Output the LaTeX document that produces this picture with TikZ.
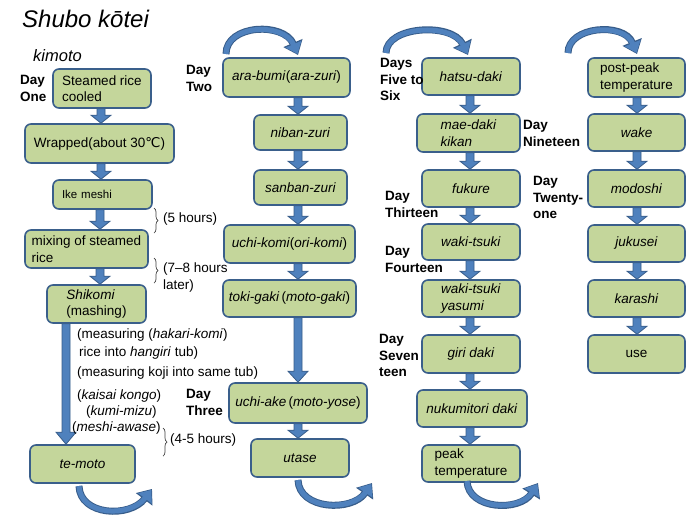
\documentclass[tikz,border=0pt]{standalone}
\usepackage{fontspec}
\setmainfont{Liberation Sans}
\newfontfamily\dejavu{DejaVu Sans}
\usetikzlibrary{decorations.pathreplacing,calc,arrows.meta}
\definecolor{boxfill}{HTML}{C4D69B}
\definecolor{boxline}{HTML}{3A5F8B}
\definecolor{arrfill}{HTML}{4F81BD}
\definecolor{arrline}{HTML}{385D8A}
\newcommand\boxfont{\fontsize{13.5}{16.5}\selectfont}
\newcommand\labfont{\fontsize{13.5}{17}\selectfont}
\newcommand\dayfont{\fontsize{13.5}{16.5}\selectfont\bfseries}
\tikzset{
  box/.style={draw=boxline, line width=1.6pt, fill=boxfill, rounded corners=6pt,
    inner sep=0pt, font=\boxfont, align=center},
  lbox/.style={box, align=left},
  lab/.style={font=\labfont, align=left, inner sep=0pt, anchor=west},
  mlab/.style={font=\labfont, align=left, inner sep=0pt, anchor=north west},
  daylab/.style={font=\dayfont, align=left, inner sep=0pt, anchor=north west},
  brc/.style={decorate, decoration={brace, amplitude=4pt}, draw=black!75, line width=0.7pt},
  blk/.style={fill=arrfill, draw=arrline, line width=0.8pt, line join=miter},
}
% block arrow: [head length]{from}{to}{x}
\newcommand\blkarrow[4][8]{%
  \path[blk] let \p1=(#2.south), \p2=(#3.north) in
    ({#4pt-4pt},\y1) -- ({#4pt+4pt},\y1) -- ({#4pt+4pt},{\y2+#1pt}) --
    ({#4pt+10pt},{\y2+#1pt}) -- (#4pt,\y2) -- ({#4pt-10pt},{\y2+#1pt}) --
    ({#4pt-4pt},{\y2+#1pt}) -- cycle;}
% curved arrow: {start}{c1}{c2}{end}
\newcommand\curvarrow[4]{%
  \draw[line width=7pt, arrline, -{Triangle[width=20pt,length=13pt]}]
    (#1) .. controls #2 and #3 .. (#4);
  \draw[line width=5pt, arrfill, shorten >=1.2pt, -{Triangle[width=16.5pt,length=10.5pt]}]
    (#1) .. controls #2 and #3 .. (#4);}
\begin{document}
\begin{tikzpicture}[x=1pt,y=-1pt]
\useasboundingbox (0,0) rectangle (700,525);
\fill[white] (0,0) rectangle (700,525);

% titles
\node[anchor=base west, inner sep=0pt, font=\fontsize{24}{28}\selectfont\itshape] (title) at (22,27) {Shubo kōtei};
\node[anchor=base west, inner sep=0pt, font=\fontsize{16.5}{20}\selectfont\itshape] (kimoto) at (33,61) {kimoto};

% column 1
\node[lbox, minimum width=98pt, minimum height=39pt] (steamed) at (102,88.5) {Steamed rice\\cooled};
\node[box, minimum width=149pt, minimum height=39pt] (wrapped) at (99.5,143.5) {Wrapped(about 30{\dejavu ℃})};
\node[box, minimum width=99pt, minimum height=29pt, text width=81pt, align=left, font=\fontsize{11.5}{14}\selectfont] (ike) at (102.5,194.5) {Ike meshi};
\node[lbox, minimum width=123pt, minimum height=38pt] (mixing) at (86.5,249) {mixing of steamed\\rice};
\node[lbox, minimum width=99pt, minimum height=38pt] (shikomi) at (96.5,304) {\textit{Shikomi}\\(mashing)};
\node[box, minimum width=105pt, minimum height=38pt] (temoto) at (82.5,464) {\textit{te-moto}};

% column 2
\node[box, minimum width=127pt, minimum height=39pt] (arabumi) at (286.5,77.5) {\textit{ara-bumi}(\textit{ara-zuri})};
\node[box, minimum width=93pt, minimum height=35pt] (niban) at (300.5,132.5) {\textit{niban-zuri}};
\node[box, minimum width=93pt, minimum height=35pt] (sanban) at (300.5,187.5) {\textit{sanban-zuri}};
\node[box, minimum width=131pt, minimum height=38pt] (uchikomi) at (289.5,244) {\textit{uchi-komi}(\textit{ori-komi})};
\node[box, minimum width=133pt, minimum height=37pt] (tokigaki) at (289.5,298.5) {\textit{toki-gaki}\,(\textit{moto-gaki})};
\node[box, minimum width=138pt, minimum height=40pt] (uchiake) at (298,403) {\textit{uchi-ake}\,(\textit{moto-yose})};
\node[box, minimum width=98pt, minimum height=38pt] (utase) at (300,458) {\textit{utase}};

% column 3
\node[box, minimum width=98pt, minimum height=37pt] (hatsu) at (471,76.5) {\textit{hatsu-daki}};
\node[lbox, minimum width=103pt, minimum height=38pt] (maedaki) at (468.5,133) {\textit{mae-daki}\\\textit{kikan}};
\node[box, minimum width=98pt, minimum height=37pt] (fukure) at (471,188.5) {\textit{fukure}};
\node[box, minimum width=98pt, minimum height=36pt] (wakitsuki) at (471,242) {\textit{waki-tsuki}};
\node[lbox, minimum width=98pt, minimum height=37pt] (yasumi) at (471,298.5) {\textit{waki-tsuki}\\\textit{yasumi}};
\node[box, minimum width=98pt, minimum height=38pt] (giri) at (471,354) {\textit{giri daki}};
\node[box, minimum width=110pt, minimum height=37pt] (nukumi) at (472,408.5) {\textit{nukumitori daki}};
\node[lbox, minimum width=98pt, minimum height=37pt] (peak) at (471,463.5) {peak\\temperature};

% column 4
\node[lbox, minimum width=97pt, minimum height=39pt] (postpeak) at (636.5,77.5) {post-peak\\temperature};
\node[box, minimum width=97pt, minimum height=37pt] (wake) at (636.5,132.5) {\textit{wake}};
\node[box, minimum width=97pt, minimum height=37pt] (modoshi) at (636.5,188.5) {\textit{modoshi}};
\node[box, minimum width=97pt, minimum height=37pt] (jukusei) at (636.5,243.5) {\textit{jukusei}};
\node[box, minimum width=97pt, minimum height=37pt] (karashi) at (636.5,298.5) {\textit{karashi}};
\node[box, minimum width=97pt, minimum height=38pt] (use) at (636.5,354) {use};

% block arrows
\blkarrow{steamed}{wrapped}{101}
\blkarrow{wrapped}{ike}{101}
\blkarrow{ike}{mixing}{100}
\blkarrow{mixing}{shikomi}{100}
\blkarrow[12]{shikomi}{temoto}{66}
\blkarrow{arabumi}{niban}{298}
\blkarrow{niban}{sanban}{298}
\blkarrow{sanban}{uchikomi}{298}
\blkarrow{uchikomi}{tokigaki}{298}
\blkarrow[11]{tokigaki}{uchiake}{298}
\blkarrow{uchiake}{utase}{298}
\blkarrow{hatsu}{maedaki}{470}
\blkarrow{maedaki}{fukure}{470}
\blkarrow{fukure}{wakitsuki}{470}
\blkarrow{wakitsuki}{yasumi}{470}
\blkarrow{yasumi}{giri}{470}
\blkarrow{giri}{nukumi}{470}
\blkarrow{nukumi}{peak}{470}
\blkarrow{postpeak}{wake}{637}
\blkarrow{wake}{modoshi}{637}
\blkarrow{modoshi}{jukusei}{637}
\blkarrow{jukusei}{karashi}{637}
\blkarrow{karashi}{use}{637}

% curved arrows
\coordinate (b1s) at (79,486);  \coordinate (b1e) at (152,489);
\coordinate (t2s) at (226,54);  \coordinate (t2e) at (298,55);
\coordinate (b2s) at (298,480); \coordinate (b2e) at (372,483);
\coordinate (t3s) at (386,53);  \coordinate (t3e) at (468,55);
\coordinate (b3s) at (467,481); \coordinate (b3e) at (538,483);
\coordinate (t4s) at (568,53);  \coordinate (t4e) at (637,54);
\curvarrow{b1s}{(80,516)}{(130,518)}{b1e}
\curvarrow{t2s}{(226,24)}{(284,22)}{t2e}
\curvarrow{b2s}{(299,510)}{(352,512)}{b2e}
\curvarrow{t3s}{(386,26)}{(452,22)}{t3e}
\curvarrow{b3s}{(468,510)}{(520,512)}{b3e}
\curvarrow{t4s}{(568,26)}{(624,22)}{t4e}

% braces
\draw[brc] (154,208) -- (154,233);
\draw[brc] (154,258) -- (154,283);
\draw[brc] (163,428) -- (163,456);

% annotations
\node[lab] (five) at (163,219) {(5 hours)};
\node[mlab] (seven) at (163,263) {(7–8 hours\\later)};
\node[lab] (meas1) at (77,335) {(measuring (\textit{hakari-komi})};
\node[lab] (meas2) at (79,353) {rice into \textit{hangiri} tub)};
\node[lab] (meas3) at (77,373) {(measuring koji into same tub)};
\node[lab] (kaisai) at (77,396) {(\textit{kaisai kongo})};
\node[lab] (kumi) at (86,412) {(\textit{kumi-mizu})};
\node[lab] (meshi) at (72,428) {(\textit{meshi-awase})};
\node[lab] (fourfive) at (170,440) {(4-5 hours)};

% day labels
\node[daylab] (dayone) at (20,75.5) {Day\\One};
\node[daylab] (daytwo) at (186,65.5) {Day\\Two};
\node[daylab] (daythree) at (186,389.5) {Day\\Three};
\node[daylab] (dayfive) at (380,58.5) {Days\\Five to\\Six};
\node[daylab] (daythirteen) at (385,191.5) {Day\\Thirteen};
\node[daylab] (dayfourteen) at (385,246.5) {Day\\Fourteen};
\node[daylab] (dayseventeen) at (379,334.5) {Day\\Seven\\teen};
\node[daylab] (daynineteen) at (523,120.5) {Day\\Nineteen};
\node[daylab] (daytwentyone) at (533,176.5) {Day\\Twenty-\\one};
\end{tikzpicture}
\end{document}
